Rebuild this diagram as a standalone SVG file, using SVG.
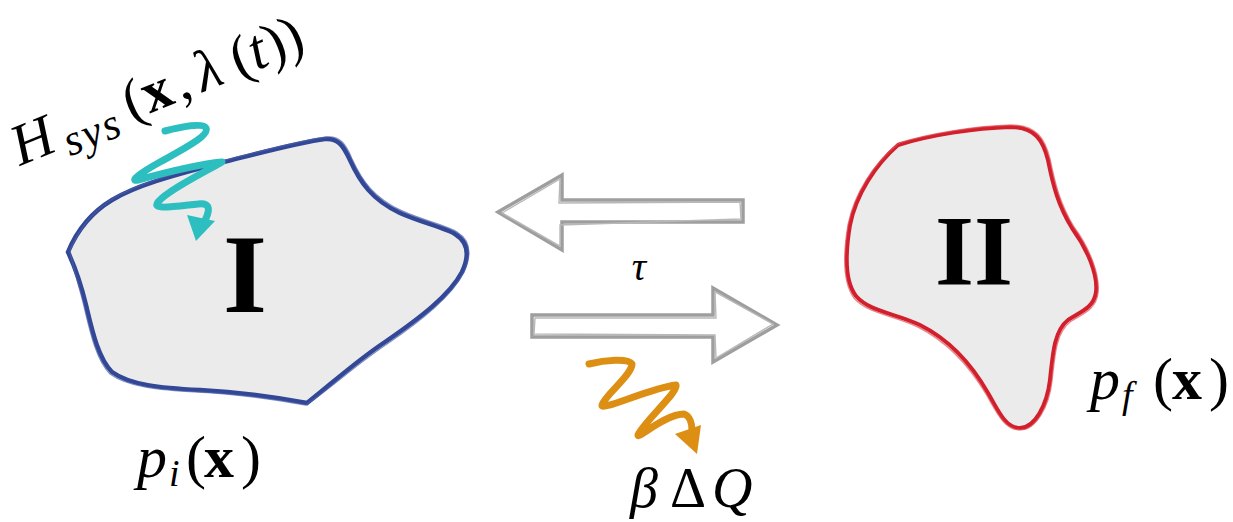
<svg xmlns="http://www.w3.org/2000/svg" width="1233" height="522" viewBox="0 0 1233 522">
<style>
.math{font-family:"Liberation Serif","DejaVu Serif",serif;font-style:italic;fill:#000}
.up{font-style:normal}
.bold{font-style:normal;font-weight:bold}
.roman{font-family:"Liberation Serif","DejaVu Serif",serif;font-weight:bold;fill:#000;text-anchor:middle}
.arrow{fill:none;stroke:#9e9e9e;stroke-width:3.5;stroke-linejoin:miter}
.arrow2{fill:none;stroke:#b8b8b8;stroke-width:1.4;stroke-linejoin:miter}
.wig{fill:none;stroke-width:7;stroke-linecap:round;stroke-linejoin:round}
</style>
<rect width="1233" height="522" fill="#fff"/>
<g id="stateI">
<path d="M 68,252 C 78,228 92,212 112,200 C 135,186 170,176 220,163 C 260,153 300,142 325,139 C 338,138 343,145 350,160 C 360,182 372,200 400,213 C 420,222 445,228 455,234 C 468,242 470,255 462,272 C 450,295 420,318 385,342 C 355,362 330,385 307,403 C 280,398 240,392 200,390 C 160,388 130,385 112,372 C 98,358 92,330 86,305 C 80,280 74,265 68,252 Z" fill="#ebebeb" stroke="#324795" stroke-width="4.5"/>
<path d="M 70,250 C 80,227 94,210 114,198 C 137,184 172,174 222,161 C 262,151 302,140 327,137 C 340,136 346,144 352,159 C 362,181 374,198 402,211 C 422,220 447,226 457,232 C 470,240 472,254 464,272 C 452,296 422,320 387,344 C 357,364 332,387 306,405 C 278,400 238,394 198,392 C 158,390 128,387 110,374 C 96,360 90,331 84,306 C 78,281 72,266 70,250 Z" fill="none" stroke="#4a5ea8" stroke-width="1.4" opacity="0.7"/>
<text class="roman" x="245" y="312" font-size="113">I</text>
</g>
<g id="stateII">
<path d="M 898,145 C 930,135 975,128 1010,127 C 1035,127 1043,140 1048,160 C 1053,185 1058,205 1072,228 C 1088,250 1098,275 1096,292 C 1094,308 1080,312 1068,320 C 1055,330 1053,350 1050,380 C 1047,405 1035,428 1020,428 C 1005,428 998,410 988,393 C 972,365 950,340 920,325 C 895,313 870,312 856,296 C 845,282 845,255 850,225 C 856,195 875,165 898,145 Z" fill="#ebebeb" stroke="#d21f2c" stroke-width="4"/>
<path d="M 899,143 C 931,133 976,126 1011,125 C 1037,125 1045,139 1050,159 C 1055,184 1060,204 1074,227 C 1090,249 1100,275 1098,293 C 1096,310 1082,314 1070,322 C 1057,332 1055,351 1052,381 C 1049,407 1036,430 1020,430 C 1004,430 996,411 986,394 C 970,367 948,342 918,327 C 893,315 868,314 854,298 C 843,283 843,255 848,225 C 854,194 873,164 899,143 Z" fill="none" stroke="#e0505a" stroke-width="1.4" opacity="0.7"/>
<text class="roman" x="974" y="284" font-size="100">II</text>
</g>
<g id="connectors">
<path class="arrow" d="M 498,212 L 562,175 L 562,200 L 743,200 L 743,222 L 562,222 L 562,250 Z"/>
<path class="arrow2" d="M 502,213 L 560,179 L 559,203 L 740,202 L 741,219 L 560,225 L 560,246 Z"/>
<path class="arrow" d="M 777,325 L 713,288 L 713,315 L 532,315 L 532,337 L 713,337 L 713,362 Z"/>
<path class="arrow2" d="M 773,324 L 715,292 L 716,318 L 535,318 L 534,334 L 715,335 L 716,358 Z"/>
</g>
<g id="drive">
<path class="wig" stroke="#2dbfbf" d="M 165,131 C 180,127 203,122 206,128 C 210,136 178,152 160,162 C 142,172 128,182 138,180 C 160,174 200,164 222,162 C 205,172 168,190 158,202 C 152,210 170,207 198,204 C 212,202 210,212 203,224"/>
<polygon points="187,215 215,221 196,241" fill="#2dbfbf"/>
</g>
<g id="heat">
<path class="wig" stroke="#dd8f14" d="M 589,364 C 605,360 628,358 632,364 C 632,375 605,395 602,405 C 600,412 650,388 676,385 C 680,390 642,424 638,435 C 637,440 665,414 684,414 C 690,416 692,424 692,430"/>
<polygon points="675,434 701,425 697,454" fill="#dd8f14"/>
</g>
<g id="labels">
<text class="math" transform="translate(20,166) rotate(-22)" font-size="58">H<tspan x="50" font-size="44" dy="10" letter-spacing="2">sys</tspan><tspan class="up" x="120" dy="-10">(</tspan><tspan class="bold" x="140">x</tspan><tspan class="up" x="174">,</tspan><tspan x="197">λ</tspan><tspan class="up" x="236">(</tspan><tspan x="255">t</tspan><tspan class="up" x="272">)</tspan><tspan class="up" x="291">)</tspan></text>
<text class="math" x="639" y="280" font-size="40" text-anchor="middle">τ</text>
<text class="math" x="137" y="477" font-size="60">p<tspan x="169" font-size="38" dy="9">i</tspan><tspan class="up" x="186" dy="-9">(</tspan><tspan class="bold" x="204">x</tspan><tspan class="up" x="241">)</tspan></text>
<text class="math" x="1090" y="399" font-size="60">p<tspan x="1122" font-size="38" dy="9">f</tspan><tspan class="up" x="1153" dy="-9">(</tspan><tspan class="bold" x="1172">x</tspan><tspan class="up" x="1209">)</tspan></text>
<text class="math" x="630" y="507" font-size="56">β<tspan class="up" x="670">Δ</tspan><tspan x="712">Q</tspan></text>
</g>
</svg>
